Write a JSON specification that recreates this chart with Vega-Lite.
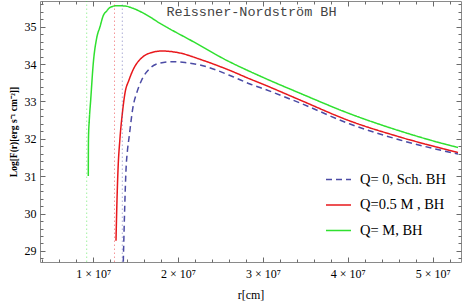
{
  "$schema": "https://vega.github.io/schema/vega-lite/v6.json",
  "width": 421,
  "height": 261,
  "autosize": "none",
  "padding": {"left": 40, "top": 1, "right": 2, "bottom": 41},
  "background": "white",
  "config": {
    "view": {"stroke": "#8a8a8a", "strokeWidth": 1},
    "font": "Liberation Serif",
    "axis": {"grid": false, "domain": false, "tickColor": "#6a6a6a", "labelOverlap": false, "labelFlush": false},
    "legend": {"orient": "none", "legendX": 285, "legendY": 165, "title": null, "labelFont": "Liberation Serif", "labelFontSize": 14.5, "labelColor": "#000", "symbolType": "stroke", "symbolSize": 625, "symbolStrokeWidth": 1.5, "symbolOpacity": 1, "labelOffset": 8, "rowPadding": 5.5, "padding": 0}
  },
  "title": {"text": "Reissner-Nordström BH", "font": "Liberation Mono", "fontSize": 13.5, "fontWeight": "normal", "color": "#444444", "anchor": "middle", "offset": -20, "dx": 1},
  "datasets": {
    "curves": [
      {"series": "Q= M, BH", "r": 9435000, "logF": 31.006},
      {"series": "Q= M, BH", "r": 9441000, "logF": 31.434},
      {"series": "Q= M, BH", "r": 9458000, "logF": 32.022},
      {"series": "Q= M, BH", "r": 9552000, "logF": 32.504},
      {"series": "Q= M, BH", "r": 9717000, "logF": 33.039},
      {"series": "Q= M, BH", "r": 10024000, "logF": 34.029},
      {"series": "Q= M, BH", "r": 10424000, "logF": 34.698},
      {"series": "Q= M, BH", "r": 10813000, "logF": 35.0},
      {"series": "Q= M, BH", "r": 11201000, "logF": 35.3},
      {"series": "Q= M, BH", "r": 11602000, "logF": 35.42},
      {"series": "Q= M, BH", "r": 11991000, "logF": 35.514},
      {"series": "Q= M, BH", "r": 12780000, "logF": 35.562},
      {"series": "Q= M, BH", "r": 13757000, "logF": 35.554},
      {"series": "Q= M, BH", "r": 14700000, "logF": 35.492},
      {"series": "Q= M, BH", "r": 16113000, "logF": 35.34},
      {"series": "Q= M, BH", "r": 17880000, "logF": 35.091},
      {"series": "Q= M, BH", "r": 21802000, "logF": 34.599},
      {"series": "Q= M, BH", "r": 25736000, "logF": 34.1},
      {"series": "Q= M, BH", "r": 29658000, "logF": 33.68},
      {"series": "Q= M, BH", "r": 34370000, "logF": 33.22},
      {"series": "Q= M, BH", "r": 40259000, "logF": 32.67},
      {"series": "Q= M, BH", "r": 46148000, "logF": 32.21},
      {"series": "Q= M, BH", "r": 52273000, "logF": 31.81},
      {"series": "Q= M, BH", "r": 52980000, "logF": 31.77},
      {"series": "Q=0.5 M , BH", "r": 12697000, "logF": 29.275},
      {"series": "Q=0.5 M , BH", "r": 12815000, "logF": 30.364},
      {"series": "Q=0.5 M , BH", "r": 12933000, "logF": 31.166},
      {"series": "Q=0.5 M , BH", "r": 13168000, "logF": 32.022},
      {"series": "Q=0.5 M , BH", "r": 13463000, "logF": 32.718},
      {"series": "Q=0.5 M , BH", "r": 13757000, "logF": 33.226},
      {"series": "Q=0.5 M , BH", "r": 14228000, "logF": 33.574},
      {"series": "Q=0.5 M , BH", "r": 14700000, "logF": 33.842},
      {"series": "Q=0.5 M , BH", "r": 15878000, "logF": 34.197},
      {"series": "Q=0.5 M , BH", "r": 16702000, "logF": 34.296},
      {"series": "Q=0.5 M , BH", "r": 18115000, "logF": 34.35},
      {"series": "Q=0.5 M , BH", "r": 20236000, "logF": 34.296},
      {"series": "Q=0.5 M , BH", "r": 22591000, "logF": 34.128},
      {"series": "Q=0.5 M , BH", "r": 26478000, "logF": 33.796},
      {"series": "Q=0.5 M , BH", "r": 28481000, "logF": 33.601},
      {"series": "Q=0.5 M , BH", "r": 29658000, "logF": 33.494},
      {"series": "Q=0.5 M , BH", "r": 34370000, "logF": 33.039},
      {"series": "Q=0.5 M , BH", "r": 40259000, "logF": 32.477},
      {"series": "Q=0.5 M , BH", "r": 46148000, "logF": 32.049},
      {"series": "Q=0.5 M , BH", "r": 52273000, "logF": 31.675},
      {"series": "Q=0.5 M , BH", "r": 52980000, "logF": 31.635},
      {"series": "Q= 0, Sch. BH", "r": 13557000, "logF": 28.71},
      {"series": "Q= 0, Sch. BH", "r": 13698000, "logF": 29.963},
      {"series": "Q= 0, Sch. BH", "r": 13875000, "logF": 31.166},
      {"series": "Q= 0, Sch. BH", "r": 14052000, "logF": 31.701},
      {"series": "Q= 0, Sch. BH", "r": 14228000, "logF": 32.022},
      {"series": "Q= 0, Sch. BH", "r": 14700000, "logF": 32.852},
      {"series": "Q= 0, Sch. BH", "r": 15171000, "logF": 33.253},
      {"series": "Q= 0, Sch. BH", "r": 15724000, "logF": 33.574},
      {"series": "Q= 0, Sch. BH", "r": 16702000, "logF": 33.887},
      {"series": "Q= 0, Sch. BH", "r": 17880000, "logF": 34.029},
      {"series": "Q= 0, Sch. BH", "r": 19258000, "logF": 34.064},
      {"series": "Q= 0, Sch. BH", "r": 20824000, "logF": 34.042},
      {"series": "Q= 0, Sch. BH", "r": 22591000, "logF": 33.975},
      {"series": "Q= 0, Sch. BH", "r": 26478000, "logF": 33.662},
      {"series": "Q= 0, Sch. BH", "r": 28481000, "logF": 33.467},
      {"series": "Q= 0, Sch. BH", "r": 29658000, "logF": 33.373},
      {"series": "Q= 0, Sch. BH", "r": 34370000, "logF": 32.959},
      {"series": "Q= 0, Sch. BH", "r": 40259000, "logF": 32.397},
      {"series": "Q= 0, Sch. BH", "r": 46148000, "logF": 31.969},
      {"series": "Q= 0, Sch. BH", "r": 52273000, "logF": 31.629},
      {"series": "Q= 0, Sch. BH", "r": 52980000, "logF": 31.594}
    ],
    "horizons": [
      {"series": "Q= M, BH", "r": 9246000},
      {"series": "Q=0.5 M , BH", "r": 12520000},
      {"series": "Q= 0, Sch. BH", "r": 13440000}
    ]
  },
  "layer": [
    {
      "data": {"name": "curves"},
      "mark": {"type": "line", "strokeWidth": 1.5, "interpolate": "monotone", "clip": true},
      "encoding": {
        "x": {"field": "r", "type": "quantitative", "scale": {"domain": [3746000, 53333000], "nice": false, "zero": false},
          "axis": {"orient": "bottom", "title": "r[cm]", "titleFont": "Liberation Serif", "titleFontSize": 12, "titleFontWeight": "normal", "titleColor": "#000", "titlePadding": 8,
            "labelFont": "Liberation Serif", "labelFontSize": 12, "labelColor": "#000", "labelPadding": 11,
            "values": [4000000, 6000000, 8000000, 10000000, 12000000, 14000000, 16000000, 18000000, 20000000, 22000000, 24000000, 26000000, 28000000, 30000000, 32000000, 34000000, 36000000, 38000000, 40000000, 42000000, 44000000, 46000000, 48000000, 50000000, 52000000],
            "labelExpr": "abs(datum.value/1e7 - round(datum.value/1e7)) < 1e-6 ? round(datum.value/1e7) + ' × 10⁷' : ''",
            "tickSize": {"condition": {"test": "abs(datum.value/1e7 - round(datum.value/1e7)) < 1e-6", "value": -5}, "value": -3}}},
        "y": {"field": "logF", "type": "quantitative", "scale": {"domain": [28.705, 35.688], "nice": false, "zero": false},
          "axis": {"orient": "left", "title": "Log[F(r)[erg s⁻¹ cm⁻²]]", "titleFont": "Liberation Serif", "titleFontSize": 9.5, "titleFontWeight": "bold", "titleColor": "#000", "titlePadding": 6,
            "labelFont": "Liberation Serif", "labelFontSize": 12, "labelColor": "#000", "labelPadding": 9,
            "values": [28.8, 29, 29.2, 29.4, 29.6, 29.8, 30, 30.2, 30.4, 30.6, 30.8, 31, 31.2, 31.4, 31.6, 31.8, 32, 32.2, 32.4, 32.6, 32.8, 33, 33.2, 33.4, 33.6, 33.8, 34, 34.2, 34.4, 34.6, 34.8, 35, 35.2, 35.4, 35.6],
            "labelExpr": "abs(datum.value - round(datum.value)) < 1e-6 ? '' + round(datum.value) : ''",
            "tickSize": {"condition": {"test": "abs(datum.value - round(datum.value)) < 1e-6", "value": -5}, "value": -3}}},
        "color": {"field": "series", "type": "nominal",
          "scale": {"domain": ["Q= 0, Sch. BH", "Q=0.5 M , BH", "Q= M, BH"], "range": ["#4b4ba5", "#e8181c", "#2fe02f"]}},
        "strokeDash": {"field": "series", "type": "nominal",
          "scale": {"domain": ["Q= 0, Sch. BH", "Q=0.5 M , BH", "Q= M, BH"], "range": [[6, 4], [1, 0], [1, 0]]}}
      }
    },
    {
      "data": {"name": "horizons"},
      "mark": {"type": "rule", "strokeWidth": 1, "strokeDash": [1.5, 2.5], "opacity": 0.45, "clip": true},
      "encoding": {
        "x": {"field": "r", "type": "quantitative",
          "axis": {"orient": "top", "title": null, "labels": false,
            "values": [4000000, 6000000, 8000000, 10000000, 12000000, 14000000, 16000000, 18000000, 20000000, 22000000, 24000000, 26000000, 28000000, 30000000, 32000000, 34000000, 36000000, 38000000, 40000000, 42000000, 44000000, 46000000, 48000000, 50000000, 52000000],
            "tickSize": {"condition": {"test": "abs(datum.value/1e7 - round(datum.value/1e7)) < 1e-6", "value": -5}, "value": -3}}},
        "y": {"datum": 28.705, "type": "quantitative",
          "axis": {"orient": "right", "title": null, "labels": false,
            "values": [28.8, 29, 29.2, 29.4, 29.6, 29.8, 30, 30.2, 30.4, 30.6, 30.8, 31, 31.2, 31.4, 31.6, 31.8, 32, 32.2, 32.4, 32.6, 32.8, 33, 33.2, 33.4, 33.6, 33.8, 34, 34.2, 34.4, 34.6, 34.8, 35, 35.2, 35.4, 35.6],
            "tickSize": {"condition": {"test": "abs(datum.value - round(datum.value)) < 1e-6", "value": -5}, "value": -3}}},
        "y2": {"datum": 35.688},
        "color": {"field": "series", "type": "nominal"}
      }
    }
  ],
  "resolve": {"scale": {"x": "shared", "y": "shared", "color": "shared"}, "axis": {"x": "independent", "y": "independent"}}
}
